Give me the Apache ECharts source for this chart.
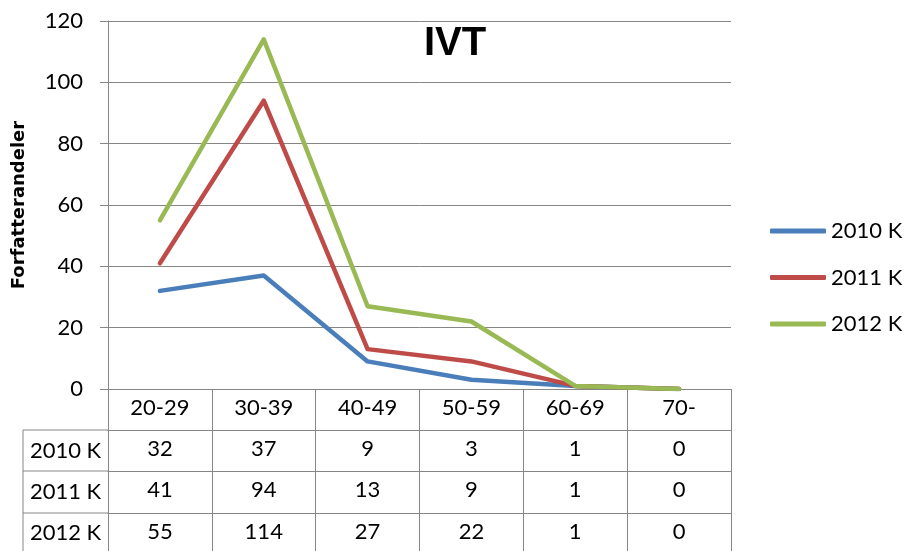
<!DOCTYPE html>
<html>
<head>
<meta charset="utf-8">
<script src="https://cdn.jsdelivr.net/npm/echarts@6/dist/echarts.min.js"></script>
<style>html,body{margin:0;padding:0;background:#fff}#c{width:906px;height:551px}</style>
</head>
<body>
<div id="c"></div>
<script>
const categories = ['20-29', '30-39', '40-49', '50-59', '60-69', '70-'];
const seriesNames = ['2010 K', '2011 K', '2012 K'];
const s2010 = [32, 37, 9, 3, 1, 0];
const s2011 = [41, 94, 13, 9, 1, 0];
const s2012 = [55, 114, 27, 22, 1, 0];
const yTicks = [0, 20, 40, 60, 80, 100, 120];

const FONT = 'Lato';
const FS = 22;
const GRID = '#868686';
const colors = ['#4A7EBB', '#BE4B48', '#98B954'];
const rows = [s2010, s2011, s2012];
const rowOffsets = [41, 82, 124];

const chart = echarts.init(document.getElementById('c'));

const xAxes = [{
  type: 'category', data: categories, position: 'bottom', gridIndex: 0,
  axisLine: { show: true, lineStyle: { color: GRID, width: 1 } },
  axisTick: { show: true, interval: 0, length: 162, lineStyle: { color: GRID, width: 1 } },
  axisLabel: { interval: 0, margin: 8, color: '#000', fontFamily: FONT, fontSize: FS }
}];
rows.forEach((r, k) => {
  xAxes.push({
    type: 'category', data: categories, position: 'bottom', gridIndex: 0, offset: rowOffsets[k],
    axisLine: { show: true, lineStyle: { color: GRID, width: 1 } },
    axisTick: { show: false },
    axisLabel: { interval: 0, margin: 8, color: '#000', fontFamily: FONT, fontSize: FS,
      formatter: (v, i) => String(r[i]) }
  });
});

const option = {
  backgroundColor: '#fff',
  animation: false,
  title: { text: 'IVT', left: 419, top: 19,
    textStyle: { fontFamily: 'Liberation Sans', fontWeight: 'bold', fontSize: 40, color: '#000' } },
  legend: {
    orient: 'vertical', left: 765, top: 215, itemWidth: 56, itemHeight: 5, itemGap: 24.5,
    icon: 'roundRect', data: seriesNames,
    textStyle: { fontFamily: FONT, fontSize: FS, color: '#000' }
  },
  grid: { left: 108, right: 175, top: 21, bottom: 162, outerBoundsMode: 'none' },
  xAxis: xAxes,
  yAxis: {
    type: 'value', min: yTicks[0], max: yTicks[yTicks.length - 1], interval: 20,
    name: 'Forfatterandeler', nameLocation: 'middle', nameRotate: 90, nameGap: 80,
    nameTextStyle: { fontFamily: 'DejaVu Sans', fontWeight: 'bold', fontSize: 18, color: '#000' },
    axisLine: { show: true, lineStyle: { color: GRID, width: 1 } },
    axisTick: { show: true, length: 8, lineStyle: { color: GRID } },
    axisLabel: { margin: 25, color: '#000', fontFamily: FONT, fontSize: FS },
    splitLine: { show: true, lineStyle: { color: GRID, width: 1 } }
  },
  series: seriesNames.map((n, k) => ({
    name: n, type: 'line', data: rows[k], xAxisIndex: 0,
    symbol: 'none', smooth: false,
    lineStyle: { color: colors[k], width: 4.5, cap: 'round', join: 'round' },
    itemStyle: { color: colors[k] }, z: 2 + k
  }))
};
chart.setOption(option);

// row-label column of the data table, positioned from the axes
const x0 = chart.convertToPixel({ xAxisIndex: 0 }, 0);
const y0 = chart.convertToPixel({ yAxisIndex: 0 }, 0);
const colW = chart.convertToPixel({ xAxisIndex: 0 }, 1) - x0;
const leftEdge = x0 - colW / 2;
const labelColLeft = 23;
const g = [];
rowOffsets.forEach((off, k) => {
  g.push({ type: 'line', shape: { x1: labelColLeft, y1: y0 + off, x2: leftEdge, y2: y0 + off },
    style: { stroke: GRID, lineWidth: 1 } });
  const nextOff = k < rowOffsets.length - 1 ? rowOffsets[k + 1] : off + 40;
  g.push({ type: 'text', x: (labelColLeft + leftEdge) / 2, y: y0 + (off + nextOff) / 2,
    style: { text: seriesNames[k], fontFamily: FONT, fontSize: FS, fill: '#000',
      align: 'center', verticalAlign: 'middle' } });
});
g.push({ type: 'line', shape: { x1: labelColLeft, y1: y0 + rowOffsets[0], x2: labelColLeft, y2: 551 },
  style: { stroke: GRID, lineWidth: 1 } });
chart.setOption({ graphic: g });
</script>
</body>
</html>
